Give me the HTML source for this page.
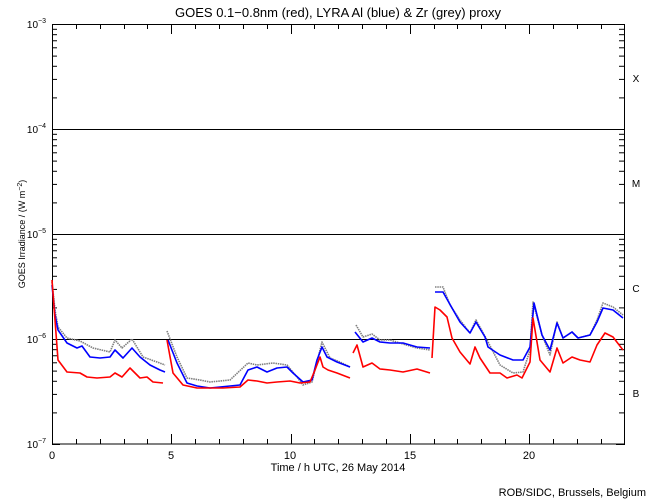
<!DOCTYPE html>
<html><head><meta charset="utf-8"><style>
html,body{margin:0;padding:0;background:#fff;}
svg{display:block;}
text{font-family:"Liberation Sans",sans-serif;fill:#000;}
</style></head><body>
<svg id="s" width="650" height="500" xmlns="http://www.w3.org/2000/svg">
<rect width="650" height="500" fill="#fff"/>
<text x="338" y="17" font-size="13" text-anchor="middle">GOES 0.1−0.8nm (red), LYRA Al (blue) &amp; Zr (grey) proxy</text>
<text x="25" y="234" font-size="9" text-anchor="middle" transform="rotate(-90 25 234)">GOES Irradiance / (W m<tspan dy="-3" font-size="7">−2</tspan><tspan dy="3">)</tspan></text>
<g font-size="10" text-anchor="end">
<text x="46" y="28">10<tspan dy="-5" font-size="7">−3</tspan></text>
<text x="46" y="133">10<tspan dy="-5" font-size="7">−4</tspan></text>
<text x="46" y="238">10<tspan dy="-5" font-size="7">−5</tspan></text>
<text x="46" y="343">10<tspan dy="-5" font-size="7">−6</tspan></text>
<text x="46" y="448">10<tspan dy="-5" font-size="7">−7</tspan></text>
</g>
<g font-size="11" text-anchor="middle">
<text x="52" y="459">0</text><text x="171" y="459">5</text><text x="290" y="459">10</text><text x="410" y="459">15</text><text x="529" y="459">20</text>
</g>
<text x="338" y="471" font-size="11" text-anchor="middle">Time / h UTC, 26 May 2014</text>
<text x="646" y="496" font-size="11" text-anchor="end">ROB/SIDC, Brussels, Belgium</text>
<g font-size="10" text-anchor="middle">
<text x="636" y="82">X</text><text x="636" y="187">M</text><text x="636" y="292">C</text><text x="636" y="397">B</text>
</g>
<g id="ax" stroke="#000" stroke-width="1" fill="none">
<rect x="52.5" y="24.5" width="572" height="419.5"/>
<line x1="52" y1="129.5" x2="625" y2="129.5"/>
<line x1="52" y1="234.5" x2="625" y2="234.5"/>
<line x1="52" y1="339.5" x2="625" y2="339.5"/>
</g>
<g fill="none" stroke-width="1.6" stroke-linejoin="round">
<polyline stroke="#808080" stroke-dasharray="1.5 0.8" points="52,282 55,310 58,327 67,338 80,341 93,348 110,352 115,340 122,348 132,339 143,357 157,362 165,365 | 167,331 177,357 187,378 200,380 210,382 230,380 248,363 257,365 273,363 287,365 297,377 303,385 312,382 322,342 330,358 340,362 350,367 | 356,325 363,337 372,334 380,340 390,340 403,344 417,348 430,350 | 435,287 443,287 450,305 460,320 470,333 476,320 487,340 500,365 513,373 523,372 530,350 533,302 542,335 550,355 557,322 563,338 572,332 578,338 590,335 597,320 603,303 613,307 623,315"/>
<polyline stroke="#0000ff" points="52,285 55,315 58,330 67,343 77,348 82,346 90,357 100,358 110,357 115,350 123,358 132,348 140,357 150,365 160,370 165,372 | 168,340 177,363 187,383 197,386 210,388 240,385 248,370 257,367 267,372 277,368 287,367 293,373 303,382 312,380 317,360 322,347 327,357 337,362 350,367 | 355,332 363,342 372,338 380,342 390,343 403,343 417,347 430,348 | 435,292 443,292 452,308 460,322 470,333 476,322 485,337 488,347 500,355 513,360 523,360 530,347 534,303 542,335 550,350 557,323 563,338 572,332 578,338 590,335 597,322 603,308 613,310 623,318"/>
<polyline stroke="#ff0000" points="52,280 55,320 58,360 67,372 80,373 87,377 97,378 110,377 115,373 122,377 130,368 140,378 147,377 153,382 163,383 | 167,340 173,373 183,385 197,388 210,388 223,388 240,387 248,380 257,381 267,383 277,382 290,381 300,383 310,382 315,370 320,357 323,367 328,370 337,373 350,378 | 353,353 357,345 363,367 372,363 380,369 390,370 403,372 417,369 430,373 | 432,358 435,307 440,310 447,317 452,338 460,352 470,364 475,347 480,358 490,373 500,373 507,378 517,375 522,378 530,362 533,318 540,360 550,372 557,348 563,363 572,357 580,360 590,362 597,345 605,333 613,337 623,350"/>
</g>
</svg>
<script>
var s=document.getElementById('s'),ns='http://www.w3.org/2000/svg';
// split polylines at '|'
document.querySelectorAll('polyline').forEach(function(p){
 var segs=p.getAttribute('points').split('|');
 if(segs.length>1){segs.forEach(function(sg){var q=p.cloneNode();q.setAttribute('points',sg.trim());p.parentNode.appendChild(q);});p.remove();}
});
var ax=document.getElementById('ax');
function ln(x1,y1,x2,y2){var l=document.createElementNS(ns,'line');l.setAttribute('x1',x1);l.setAttribute('y1',y1);l.setAttribute('x2',x2);l.setAttribute('y2',y2);ax.appendChild(l);}
for(var d=0;d<4;d++){for(var k=2;k<=9;k++){var y=444-105*(d+Math.log10(k))+0.5;ln(52,y,57,y);ln(619,y,625,y);}
 var yy=444-105*d+0.5;ln(52,yy,60,yy);ln(616,yy,625,yy);}
for(var h=1;h<24;h++){var x=Math.round(52+h*23.85)+0.5;var L=(h%5==0)?10:5;ln(x,444,x,444-L);ln(x,24,x,24+L);}
</script>
</body></html>
